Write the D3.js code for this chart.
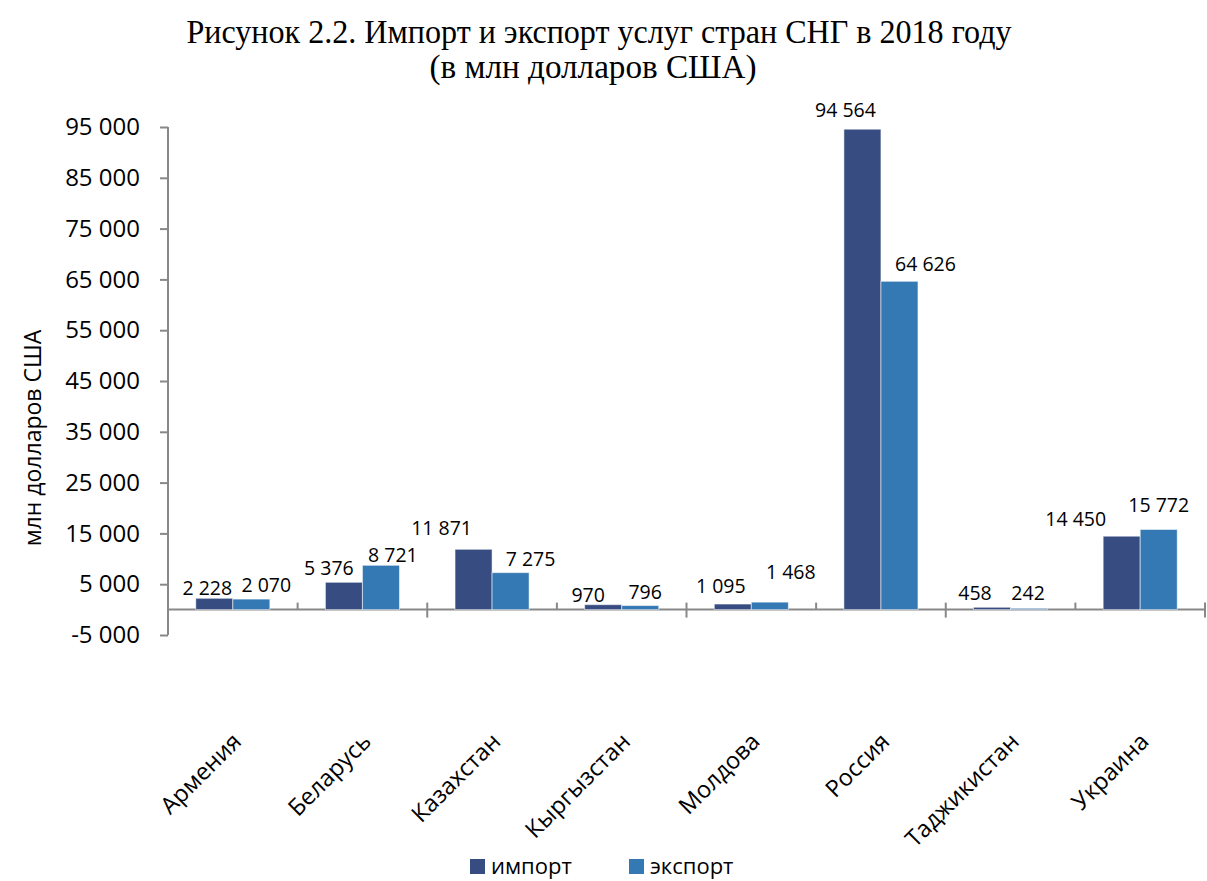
<!DOCTYPE html>
<html>
<head>
<meta charset="utf-8">
<script src="https://cdn.jsdelivr.net/npm/d3@7/dist/d3.min.js"></script>
<style>
  html, body { margin: 0; padding: 0; background: #fff; }
  svg { display: block; }
</style>
</head>
<body>
<svg id="chart" width="1207" height="881"></svg>
<script>
// ---- data ----
const countries = ["Армения", "Беларусь", "Казахстан", "Кыргызстан", "Молдова", "Россия", "Таджикистан", "Украина"];
const importValues = [2228, 5376, 11871, 970, 1095, 94564, 458, 14450];
const exportValues = [2070, 8721, 7275, 796, 1468, 64626, 242, 15772];
const seriesNames = ["импорт", "экспорт"];
const yTicks = [-5000, 5000, 15000, 25000, 35000, 45000, 55000, 65000, 75000, 85000, 95000];
const titleLines = ["Рисунок 2.2. Импорт и экспорт услуг стран СНГ в 2018 году", "(в млн долларов США)"];
const yAxisTitle = "млн долларов США";

// label nudges (manual placement in the source chart), pixels relative to bar top/center
const importLabelNudge = [[-7,-3],[-15,-7],[-32,-14],[-15,-3],[-12,-11],[-17,-12],[-17,-7],[-46,-10]];
const exportLabelNudge = [[15,-7],[12,-3],[20,-7],[5,-7],[21,-23],[26,-10],[-1,-8],[0,-17]];

// ---- styles ----
const colors = ["#374C80", "#3478B4"];
const axisColor = "#888888";
const font = "'Open Sans', 'DejaVu Sans', sans-serif";

const svg = d3.select("#chart");
const fmt = v => d3.format(",")(v).replace(/,/g, " ").replace("−", "-");

const x0 = d3.scaleBand().domain(countries).range([168, 1205]).paddingInner(0).paddingOuter(0);
const x1 = d3.scaleBand().domain(seriesNames).range([0, x0.bandwidth()]).paddingInner(0).paddingOuter(0.75);
const y = d3.scaleLinear().domain([-5000, 95000]).range([635, 127]);

// title
svg.append("text").attr("x", 599).attr("y", 43).attr("text-anchor", "middle")
  .attr("font-family", "'Liberation Serif', 'Times New Roman', serif").attr("font-size", 33)
  .attr("textLength", 825).attr("lengthAdjust", "spacingAndGlyphs")
  .text(titleLines[0]);
svg.append("text").attr("x", 593).attr("y", 78).attr("text-anchor", "middle")
  .attr("font-family", "'Liberation Serif', 'Times New Roman', serif").attr("font-size", 33)
  .attr("textLength", 327).attr("lengthAdjust", "spacingAndGlyphs")
  .text(titleLines[1]);

// y axis
const yAxis = d3.axisLeft(y).tickValues(yTicks).tickSize(8).tickPadding(20).tickFormat(fmt);
const gy = svg.append("g").attr("transform", "translate(168,0)").call(yAxis);
gy.select(".domain").attr("stroke", axisColor).attr("stroke-width", 2).attr("d", `M0,${y(-5000)}V${y(95000)}`);
gy.selectAll(".tick line").attr("stroke", axisColor).attr("stroke-width", 2);
gy.selectAll(".tick text").attr("font-family", font).attr("font-size", 24).attr("fill", "#000");

// y axis title
svg.append("text").attr("transform", `translate(41,438) rotate(-90)`).attr("text-anchor", "middle")
  .attr("font-family", font).attr("font-size", 23).text(yAxisTitle);

// x axis line at zero
const y0 = y(0);
svg.append("line").attr("x1", 168).attr("x2", 1205).attr("y1", y0).attr("y2", y0)
  .attr("stroke", axisColor).attr("stroke-width", 2);
// category boundary tick marks
const boundaries = countries.map((c, i) => ({ x: x0(c) + x0.bandwidth(), i: i + 1 }));
svg.append("g").selectAll("line").data(boundaries).join("line")
  .attr("x1", d => d.x).attr("x2", d => d.x)
  .attr("y1", y0 - 7).attr("y2", d => d.i % 2 === 0 ? y0 + 8 : y0)
  .attr("stroke", axisColor).attr("stroke-width", 2);

// bars
const rows = countries.map((c, i) => ({ country: c, values: [importValues[i], exportValues[i]], i }));
const groups = svg.append("g").selectAll("g").data(rows).join("g")
  .attr("transform", d => `translate(${x0(d.country)},0)`);
groups.selectAll("rect").data(d => d.values.map((v, k) => ({ v, k, i: d.i }))).join("rect")
  .attr("x", d => x1(seriesNames[d.k]))
  .attr("width", x1.bandwidth())
  .attr("y", d => y(Math.max(0, d.v)))
  .attr("height", d => Math.abs(y(d.v) - y(0)))
  .attr("fill", d => colors[d.k])
  .attr("stroke", "rgba(255,255,255,0.55)").attr("stroke-width", 1);

// data labels
groups.selectAll("text").data(d => d.values.map((v, k) => ({ v, k, i: d.i }))).join("text")
  .attr("x", d => x1(seriesNames[d.k]) + x1.bandwidth() / 2 + (d.k === 0 ? importLabelNudge : exportLabelNudge)[d.i][0])
  .attr("y", d => y(d.v) + (d.k === 0 ? importLabelNudge : exportLabelNudge)[d.i][1])
  .attr("text-anchor", "middle").attr("font-family", font).attr("font-size", 19.5).attr("fill", "#000")
  .text(d => fmt(d.v));

// x category labels
svg.append("g").selectAll("text").data(countries).join("text")
  .attr("transform", c => `translate(${x0(c) + x0.bandwidth() / 2 + 10},743) rotate(-45)`)
  .attr("text-anchor", "end").attr("font-family", font).attr("font-size", 23.5).attr("fill", "#000")
  .text(c => c);

// legend
const legendX = [470, 629];
const legend = svg.append("g").selectAll("g").data(seriesNames).join("g")
  .attr("transform", (d, k) => `translate(${legendX[k]},859)`);
legend.append("rect").attr("width", 15).attr("height", 15).attr("fill", (d, k) => colors[k]);
legend.append("text").attr("x", 21).attr("y", 15).attr("font-family", font).attr("font-size", 22)
  .text(d => d);
</script>
</body>
</html>
